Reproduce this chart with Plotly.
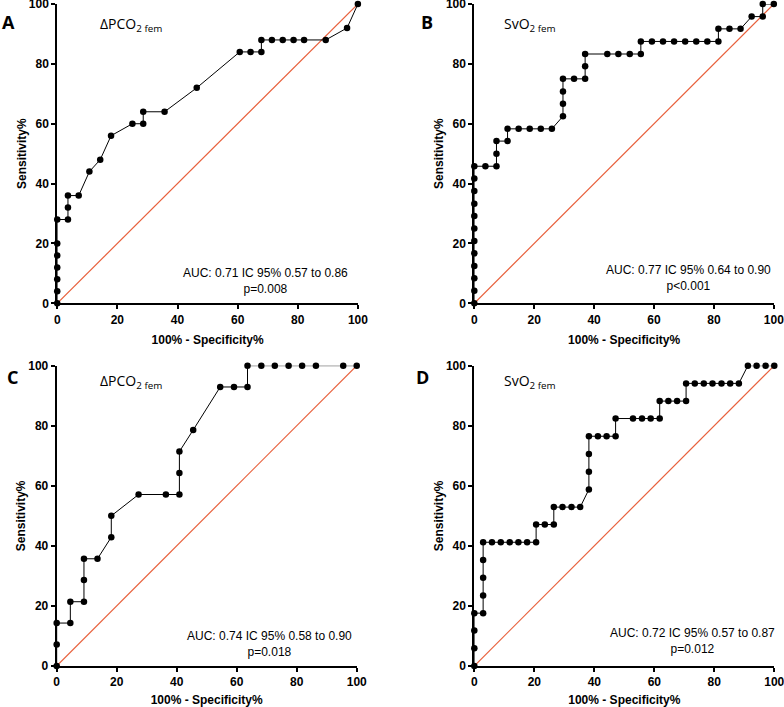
import plotly.graph_objects as go
from plotly.subplots import make_subplots

# ROC points (100% - specificity, sensitivity)
a_x = [0, 0, 0, 0, 0, 0, 0, 3.57, 3.57, 3.57, 7.14, 10.7, 14.3, 17.9, 25.0, 28.6, 28.6, 35.7,
       46.4, 60.7, 64.3, 67.9, 67.9, 71.4, 75.0, 78.6, 82.1, 89.3, 96.4, 100]
a_y = [0, 4, 8, 12, 16, 20, 28, 28, 32, 36, 36, 44, 48, 56, 60, 60, 64, 64,
       72, 84, 84, 84, 88, 88, 88, 88, 88, 88, 92, 100]

b_x = [0, 0, 0, 0, 0, 0, 0, 0, 0, 0, 0, 0, 3.7, 7.4, 7.4, 7.4, 11.1, 11.1, 14.8, 18.5, 22.2,
       25.9, 29.6, 29.6, 29.6, 29.6, 33.3, 37.0, 37.0, 37.0, 44.4, 48.1, 51.9, 55.6, 55.6,
       59.3, 63.0, 66.7, 70.4, 74.1, 77.8, 81.5, 81.5, 85.2, 88.9, 92.6, 96.3, 96.3, 100]
b_y = [0, 4.17, 8.33, 12.5, 16.7, 20.8, 25.0, 29.2, 33.3, 37.5, 41.7, 45.8, 45.8, 45.8, 50.0,
       54.2, 54.2, 58.3, 58.3, 58.3, 58.3, 58.3, 62.5, 66.7, 70.8, 75.0, 75.0, 75.0, 79.2, 83.3,
       83.3, 83.3, 83.3, 83.3, 87.5, 87.5, 87.5, 87.5, 87.5, 87.5, 87.5, 87.5, 91.7, 91.7, 91.7,
       95.8, 95.8, 100, 100]

c_x = [0, 0, 0, 4.55, 4.55, 9.09, 9.09, 9.09, 13.6, 18.2, 18.2, 27.3, 36.4, 40.9, 40.9, 40.9,
       45.5, 54.5, 59.1, 63.6, 63.6, 68.2, 72.7, 77.3, 81.8, 86.4, 95.5, 100]
c_y = [0, 7.14, 14.3, 14.3, 21.4, 21.4, 28.6, 35.7, 35.7, 42.9, 50.0, 57.1, 57.1, 57.1, 64.3,
       71.4, 78.6, 92.9, 92.9, 92.9, 100, 100, 100, 100, 100, 100, 100, 100]

d_x = [0, 0, 0, 0, 2.94, 2.94, 2.94, 2.94, 2.94, 5.88, 8.82, 11.8, 14.7, 17.6, 20.6, 20.6,
       23.5, 26.5, 26.5, 29.4, 32.4, 35.3, 38.2, 38.2, 38.2, 38.2, 41.2, 44.1, 47.1, 47.1,
       52.9, 55.9, 58.8, 61.8, 61.8, 64.7, 67.6, 70.6, 70.6, 73.5, 76.5, 79.4, 82.4, 85.3,
       88.2, 91.2, 94.1, 97.1, 100]
d_y = [0, 5.88, 11.8, 17.6, 17.6, 23.5, 29.4, 35.3, 41.2, 41.2, 41.2, 41.2, 41.2, 41.2, 41.2,
       47.1, 47.1, 47.1, 52.9, 52.9, 52.9, 52.9, 58.8, 64.7, 70.6, 76.5, 76.5, 76.5, 76.5, 82.4,
       82.4, 82.4, 82.4, 82.4, 88.2, 88.2, 88.2, 88.2, 94.1, 94.1, 94.1, 94.1, 94.1, 94.1,
       94.1, 100, 100, 100, 100]

panel_letters = ['A', 'B', 'C', 'D']
panel_names = ['ΔPCO<sub>2 fem</sub>', 'SvO<sub>2 fem</sub>', 'ΔPCO<sub>2 fem</sub>', 'SvO<sub>2 fem</sub>']
auc_texts = ['AUC: 0.71 IC 95% 0.57 to 0.86<br>p=0.008',
             'AUC: 0.77 IC 95% 0.64 to 0.90<br>p<0.001',
             'AUC: 0.74 IC 95% 0.58 to 0.90<br>p=0.018',
             'AUC: 0.72 IC 95% 0.57 to 0.87<br>p=0.012']
tick_vals = [0, 20, 40, 60, 80, 100]

curves = [(a_x, a_y), (b_x, b_y), (c_x, c_y), (d_x, d_y)]
cells = [(1, 1), (1, 2), (2, 1), (2, 2)]

fig = make_subplots(rows=2, cols=2)

red = '#E8603C'
for (cx, cy), (r, c) in zip(curves, cells):
    fig.add_trace(go.Scatter(x=[0, 100], y=[0, 100], mode='lines',
                             line=dict(color=red, width=1.2), cliponaxis=False,
                             showlegend=False, hoverinfo='skip'), row=r, col=c)
    fig.add_trace(go.Scatter(x=cx, y=cy, mode='lines+markers',
                             line=dict(color='black', width=1),
                             marker=dict(color='black', size=6.5),
                             cliponaxis=False, showlegend=False), row=r, col=c)

# panel placement (paper fractions)
x_doms = [[0.073, 0.4565], [0.605, 0.987], [0.0723, 0.455], [0.605, 0.9876]]
y_doms = [[0.571, 0.9943], [0.571, 0.9943], [0.058, 0.4828], [0.058, 0.4828]]

name_pos = [(13.6, 93), (9.3, 93), (13.9, 94.7), (9.2, 94.7)]
auc_pos = [(69.3, 7.6), (71.4, 8.3), (70.8, 7.2), (72.6, 8.2)]
letter_pos = [(0.011, 0.969), (0.545, 0.969), (0.016, 0.467), (0.539, 0.467)]

axis_font = dict(family='Liberation Sans, Arial', size=12, color='black', weight='bold')
title_font = dict(family='Liberation Sans, Arial', size=12, color='black', weight='bold')

for i in range(4):
    xa = 'xaxis' if i == 0 else 'xaxis%d' % (i + 1)
    ya = 'yaxis' if i == 0 else 'yaxis%d' % (i + 1)
    fig.layout[xa].update(domain=x_doms[i], range=[0, 100], tickvals=tick_vals, automargin=False,
                          showgrid=False, zeroline=False, showline=True, linewidth=2,
                          linecolor='black', ticks='outside', ticklen=4, tickwidth=2,
                          tickcolor='black', tickfont=axis_font, ticklabeloverflow='allow',
                          title=dict(text='100% - Specificity%', font=title_font, standoff=10))
    fig.layout[ya].update(domain=y_doms[i], range=[0, 100], tickvals=tick_vals, automargin=False,
                          showgrid=False, zeroline=False, showline=True, linewidth=2,
                          linecolor='black', ticks='outside', ticklen=4, tickwidth=2,
                          tickcolor='black', tickfont=axis_font, ticklabeloverflow='allow',
                          title=dict(text='Sensitivity%', font=title_font, standoff=0))
    xref = 'x' if i == 0 else 'x%d' % (i + 1)
    yref = 'y' if i == 0 else 'y%d' % (i + 1)
    fig.add_annotation(x=name_pos[i][0], y=name_pos[i][1], xref=xref, yref=yref,
                       text=panel_names[i], showarrow=False, xanchor='left', yanchor='middle',
                       font=dict(family='Open Sans', size=14, color='black'))
    fig.add_annotation(x=auc_pos[i][0], y=auc_pos[i][1], xref=xref, yref=yref,
                       text=auc_texts[i], showarrow=False, xanchor='center', yanchor='middle',
                       align='center', font=dict(family='Liberation Sans, Arial', size=12, color='black'))
    fig.add_annotation(x=letter_pos[i][0], y=letter_pos[i][1], xref='paper', yref='paper',
                       text=panel_letters[i], showarrow=False,
                       xanchor='center', yanchor='middle',
                       font=dict(family='Open Sans', size=18, color='black', weight='bold'))

fig.update_layout(width=784, height=707, margin=dict(l=0, r=0, t=0, b=0),
                  plot_bgcolor='white', paper_bgcolor='white')

# drop the browser's default body margin so the figure sits at the window corner
fig.write_html('out.html', config={'displayModeBar': False},
               post_script="document.body.style.margin='0';document.body.style.overflow='hidden';")
